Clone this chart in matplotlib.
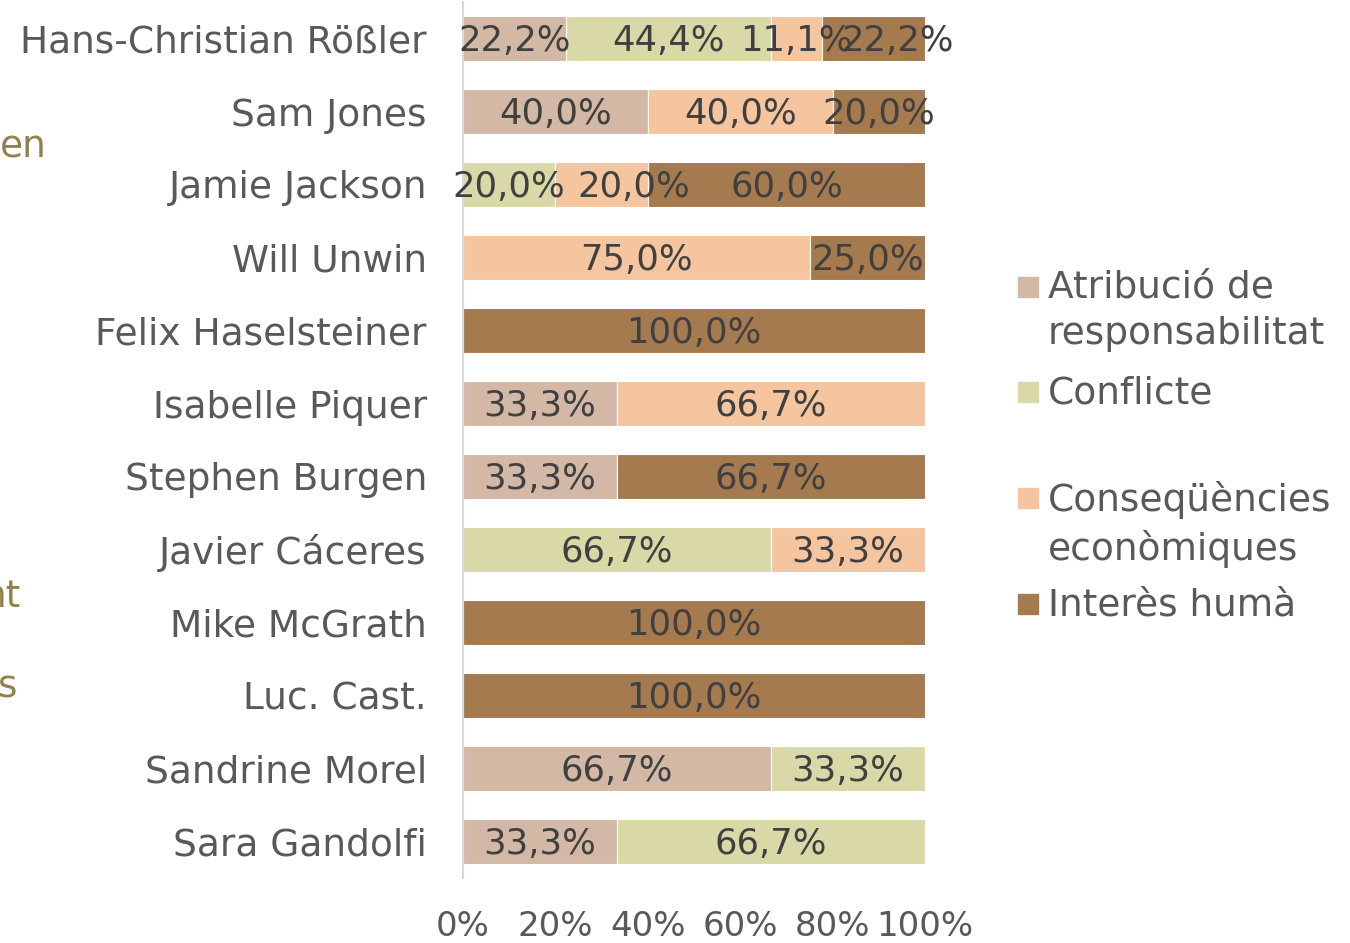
import matplotlib
matplotlib.use("Agg")
import matplotlib.pyplot as plt
import numpy as np
from matplotlib.patches import Rectangle

plt.rcParams['font.family'] = ['DejaVu Sans']

authors = ["Hans-Christian Rößler", "Sam Jones", "Jamie Jackson", "Will Unwin",
           "Felix Haselsteiner", "Isabelle Piquer", "Stephen Burgen", "Javier Cáceres",
           "Mike McGrath", "Luc. Cast.", "Sandrine Morel", "Sara Gandolfi"]

series = ["Atribució de\nresponsabilitat", "Conflicte",
          "Conseqüències\neconòmiques", "Interès humà"]
colors = ["#D3B9A5", "#D9D9A8", "#F4C59E", "#A57A4F"]

atribucio = [22.2, 40.0, 0, 0, 0, 33.3, 33.3, 0, 0, 0, 66.7, 33.3]
conflicte = [44.4, 0, 20.0, 0, 0, 0, 0, 66.7, 0, 0, 33.3, 66.7]
consequencies = [11.1, 40.0, 20.0, 75.0, 0, 66.7, 0, 33.3, 0, 0, 0, 0]
interes = [22.2, 20.0, 60.0, 25.0, 100.0, 0, 66.7, 0, 100.0, 100.0, 0, 0]

xticks = [0, 20, 40, 60, 80, 100]

# labels that were nudged right in the original (row, series) -> shift in %
nudge = {(0, 3): 5.2, (2, 2): 7.0}

values = np.array([atribucio, conflicte, consequencies, interes])

fig = plt.figure(figsize=(13.5, 9.43), dpi=100)
ax = fig.add_axes([463/1350, 1 - 878/943, 462/1350, 876/943])

y = np.arange(len(authors))
left = np.zeros(len(authors))
for si, (vals, c) in enumerate(zip(values, colors)):
    ax.barh(y, vals, left=left, height=0.62, color=c, edgecolor="white", linewidth=0.8)
    for yi, (l, v) in enumerate(zip(left, vals)):
        if v > 0:
            ax.text(l + v / 2 + nudge.get((yi, si), 0), yi + 0.03,
                    ("%.1f%%" % v).replace(".", ","), ha="center",
                    va="center", fontsize=25.5, color="#404040")
    left = left + vals

ax.set_ylim(len(authors) - 0.5, -0.5)
ax.set_xlim(0, 100)
ax.set_yticks(y)
ax.set_yticklabels(authors, fontsize=27, color="#595959")
ax.set_xticks(xticks)
ax.set_xticklabels(["%d%%" % t for t in xticks], fontsize=24.5, color="#595959")
ax.tick_params(axis="y", length=0, pad=26)
ax.tick_params(axis="x", length=0, pad=23)
for lbl in ax.get_yticklabels():
    lbl.set_y(lbl.get_position()[1])
for s in ["top", "right", "bottom"]:
    ax.spines[s].set_visible(False)
ax.spines["left"].set_color("#D9D9D9")
ax.spines["left"].set_linewidth(1.5)

# legend drawn by hand
leg_y = [287, 392, 498, 604]
for lab, c, ly in zip(series, colors, leg_y):
    fig.patches.append(Rectangle((1018/1350, 1 - (ly + 10)/943), 20/1350, 20/943,
                                 transform=fig.transFigure, color=c))
    fig.text(1048/1350, 1 - (ly - 17)/943, lab, ha="left", va="top", fontsize=27,
             color="#595959", linespacing=1.37)

# cut-off labels of a neighbouring chart
for txt, tx, ty in [("en", 47, 148), ("nt", 21, 597), ("s", 18, 687)]:
    fig.text(tx/1350, 1 - ty/943, txt, ha="right", va="center", fontsize=27,
             color="#94804A")

fig.savefig("out.png", dpi=100)
